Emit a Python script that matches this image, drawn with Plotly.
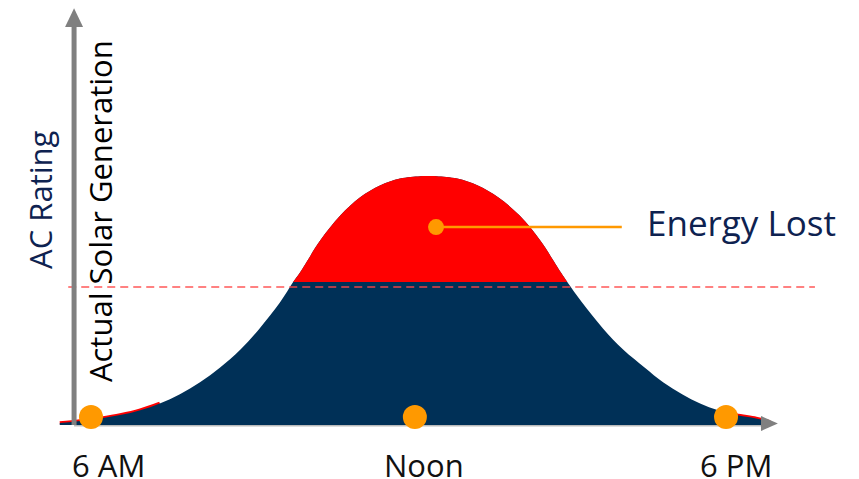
import plotly.graph_objects as go

# --- data (hour of day, generation in % of peak) ---
hours = [5.41, 5.79, 6.17, 6.55, 6.93, 7.30, 7.68, 8.06, 8.44, 8.82,
         9.19, 9.57, 9.82, 9.95, 10.33, 10.71, 11.08, 11.46, 11.84, 12.22,
         12.37, 12.53, 12.92, 13.31, 13.70, 14.10, 14.49, 14.88, 15.00, 15.28,
         15.67, 16.06, 16.46, 16.81, 17.17, 17.51, 17.85, 18.19, 18.57, 18.83]
generation = [0.8, 1.6, 2.65, 4.0, 5.94, 8.67, 12.37, 17.19, 23.13, 30.20,
              38.88, 49.16, 57.4, 61.20, 74.06, 84.10, 91.33, 96.14, 98.96, 99.92,
              100, 99.92, 98.96, 96.14, 91.33, 84.10, 74.06, 61.20, 57.4, 49.16,
              38.88, 30.20, 23.13, 17.19, 12.37, 8.67, 5.94, 4.0, 2.65, 1.2]
ac_rating = 57.4          # clipping level (top of navy area)
ac_rating_line = 55.4     # dashed reference line
tick_hours = [6, 12.12, 18]
tick_labels = ["6 AM", "Noon", "6 PM"]
dot_level = 3.2
energy_lost_point = (12.52, 79.5)
energy_lost_line_end = 16.03
energy_lost_label = "Energy Lost"

RED = "#FF0000"
NAVY = "#003057"
ORANGE = "#FF9900"
GRAY = "#808080"
TEXT_NAVY = "#0E2250"
FONT = "Open Sans"

fig = go.Figure()

# red outline along the low tails (shows just above the navy area)
n = len(hours)
for lo, hi in [(0, 6), (n - 4, n)]:
    fig.add_trace(go.Scatter(x=hours[lo:hi], y=generation[lo:hi], mode="lines",
                             line=dict(color=RED, width=3.5, shape="spline"),
                             hoverinfo="skip", showlegend=False))
# navy: actual generation area
fig.add_trace(go.Scatter(x=hours, y=generation, mode="lines", fill="tozeroy",
                         fillcolor=NAVY, line=dict(color=NAVY, width=0, shape="spline"),
                         hoverinfo="skip", showlegend=False))
# red: energy lost above the AC rating
above = [i for i, v in enumerate(generation) if v >= ac_rating]
fig.add_trace(go.Scatter(x=[hours[i] for i in above], y=[generation[i] for i in above],
                         mode="lines", fill="toself", fillcolor=RED,
                         line=dict(color=RED, width=0, shape="spline"),
                         hoverinfo="skip", showlegend=False))

# dashed AC rating line
fig.add_trace(go.Scatter(x=[5.57, 19.68], y=[ac_rating_line, ac_rating_line], mode="lines",
                         line=dict(color="rgba(255,70,70,0.9)", width=1.5, dash="8px,5px"),
                         hoverinfo="skip", showlegend=False))

# energy lost pointer
fig.add_trace(go.Scatter(x=[energy_lost_point[0], energy_lost_line_end],
                         y=[energy_lost_point[1], energy_lost_point[1]], mode="lines",
                         line=dict(color=ORANGE, width=2.5),
                         hoverinfo="skip", showlegend=False))
fig.add_trace(go.Scatter(x=[energy_lost_point[0]], y=[energy_lost_point[1]], mode="markers",
                         marker=dict(color=ORANGE, size=16),
                         hoverinfo="skip", showlegend=False))

# time dots
fig.add_trace(go.Scatter(x=tick_hours, y=[dot_level] * len(tick_hours), mode="markers",
                         marker=dict(color=ORANGE, size=24),
                         hoverinfo="skip", showlegend=False))

# axes with arrows (decoration)
shapes = [
    dict(type="line", x0=5.68, x1=5.68, y0=0, y1=160, line=dict(color=GRAY, width=5), layer="above"),
    dict(type="path", path="M 5.51 159.8 L 5.85 159.8 L 5.68 167.4 Z",
         fillcolor=GRAY, line=dict(width=0), layer="above"),
    dict(type="line", x0=5.68, x1=18.7, y0=-0.3, y1=-0.3, line=dict(color="#BBBBBB", width=1.5), layer="below"),
    dict(type="path", path="M 18.66 3.6 L 18.66 -2.4 L 18.98 0.6 Z",
         fillcolor=GRAY, line=dict(width=0), layer="above"),
]

annotations = [
    dict(x=5.036, y=90.4, text="AC Rating", textangle=-90, showarrow=False,
         font=dict(family=FONT, size=31, color=TEXT_NAVY)),
    dict(x=6.17, y=85.9, text="Actual Solar Generation", textangle=-90, showarrow=False,
         font=dict(family=FONT, size=31, color="#000000")),
    dict(x=16.47, y=81.5, text=energy_lost_label, showarrow=False, xanchor="left",
         font=dict(family=FONT, size=35, color=TEXT_NAVY)),
]
label_shift = [17, 9, 10]
for h, t, s in zip(tick_hours, tick_labels, label_shift):
    annotations.append(dict(x=h, y=-16.1, text=t, showarrow=False, xshift=s,
                            font=dict(family=FONT, size=31, color="#111111")))

# the page body has an 8px margin, so the figure is drawn from (8, 8)
fig.update_layout(
    width=851, height=471,
    margin=dict(l=0, r=0, t=0, b=0),
    paper_bgcolor="white", plot_bgcolor="white",
    xaxis=dict(range=[4.4316, 20.5125], visible=False, fixedrange=True),
    yaxis=dict(range=[-21.69, 167.47], visible=False, fixedrange=True),
    shapes=shapes, annotations=annotations, showlegend=False,
)

fig.write_html("out.html")
